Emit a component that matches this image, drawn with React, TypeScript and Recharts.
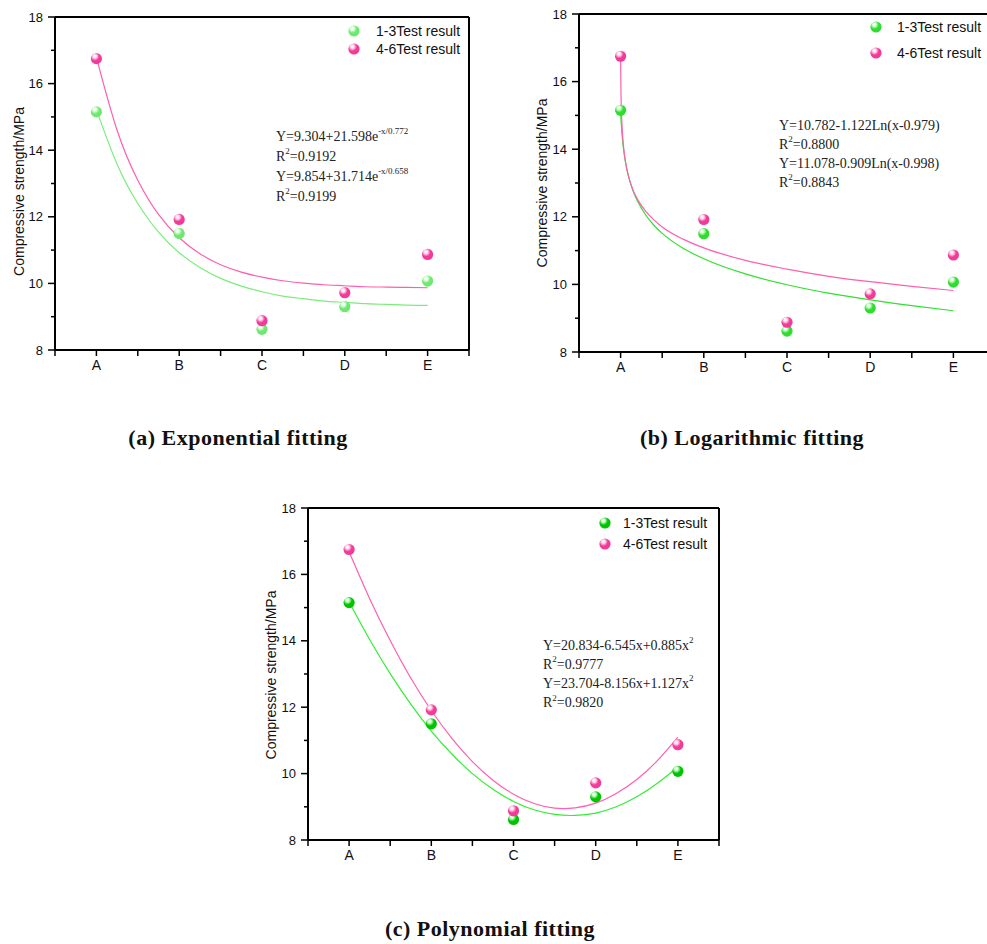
import React from 'react';
import { ComposedChart, Line, Scatter, XAxis, YAxis, Legend, ReferenceLine } from 'recharts';

// ---------- data ----------
const categories = ['A', 'B', 'C', 'D', 'E'];
const categoryX = [1, 2, 3, 4, 5];
const xTicks = [0.5, 1, 1.5, 2, 2.5, 3, 3.5, 4, 4.5, 5, 5.5];
const yTicks = [8, 9, 10, 11, 12, 13, 14, 15, 16, 17, 18];
const seriesNames = ['1-3Test result', '4-6Test result'];
const result13 = [15.15, 11.5, 8.62, 9.3, 10.07];
const result46 = [16.75, 11.92, 8.88, 9.72, 10.87];

const expFitX = [1, 1.25, 1.5, 1.75, 2, 2.25, 2.5, 2.75, 3, 3.25, 3.5, 3.75, 4, 4.25, 4.5, 4.75, 5];
const expFit13 = [15.22, 13.58, 12.4, 11.54, 10.92, 10.48, 10.15, 9.92, 9.75, 9.62, 9.54, 9.47, 9.43, 9.39, 9.37, 9.35, 9.34];
const expFit46 = [16.79, 14.6, 13.1, 12.07, 11.37, 10.89, 10.56, 10.34, 10.19, 10.08, 10.01, 9.96, 9.93, 9.9, 9.89, 9.88, 9.87];

const logFitX = [1, 1.005, 1.01, 1.02, 1.03, 1.05, 1.075, 1.1, 1.15, 1.2, 1.3, 1.4, 1.5, 1.75, 2, 2.5, 3, 3.5, 4, 4.5, 5];
const logFit13 = [15.12, 14.88, 14.68, 14.37, 14.12, 13.75, 13.41, 13.15, 12.76, 12.48, 12.06, 11.75, 11.51, 11.07, 10.76, 10.31, 9.99, 9.74, 9.54, 9.37, 9.22];
const logFit46 = [16.73, 15.59, 15.1, 14.55, 14.21, 13.77, 13.41, 13.15, 12.79, 12.53, 12.17, 11.91, 11.7, 11.34, 11.08, 10.71, 10.45, 10.24, 10.08, 9.94, 9.82];

const polyFitX = [1, 1.25, 1.5, 1.75, 2, 2.25, 2.5, 2.75, 3, 3.25, 3.5, 3.75, 4, 4.25, 4.5, 4.75, 5];
const polyFit13 = [15.17, 14.04, 13.01, 12.09, 11.28, 10.59, 10.0, 9.53, 9.16, 8.91, 8.77, 8.74, 8.81, 9.0, 9.3, 9.71, 10.2];
const polyFit46 = [16.68, 15.27, 14.01, 12.88, 11.9, 11.06, 10.36, 9.8, 9.38, 9.1, 8.96, 8.97, 9.11, 9.4, 9.82, 10.39, 11.1];

const expEquations = ['Y=9.304+21.598e^{-x/0.772}', 'R^{2}=0.9192', 'Y=9.854+31.714e^{-x/0.658}', 'R^{2}=0.9199'];
const logEquations = ['Y=10.782-1.122Ln(x-0.979)', 'R^{2}=0.8800', 'Y=11.078-0.909Ln(x-0.998)', 'R^{2}=0.8843'];
const polyEquations = ['Y=20.834-6.545x+0.885x^{2}', 'R^{2}=0.9777', 'Y=23.704-8.156x+1.127x^{2}', 'R^{2}=0.9820'];

const titles = ['(a) Exponential fitting', '(b) Logarithmic fitting', '(c) Polynomial fitting'];
const yAxisTitle = 'Compressive strength/MPa';

// ---------- helpers ----------
const SANS = "Arial, 'Liberation Sans', sans-serif";
const SERIF = "'Times New Roman', 'Liberation Serif', serif";

const zipRows = (xs: number[], a: number[], b: number[]) =>
  xs.map((x, i) => ({ x, f13: a[i], f46: b[i] }));
const points = (vals: number[]) => categoryX.map((x, i) => ({ x, y: vals[i], name: categories[i] }));

const renderEq = (s: string, k: number) => {
  const parts = s.split(/\^\{([^}]*)\}/);
  return (
    <div key={k}>
      {parts.map((p, i) =>
        i % 2 === 1 ? (
          <sup key={i} style={{ fontSize: 9, lineHeight: 0, position: 'relative', top: -1 }}>{p}</sup>
        ) : (
          <span key={i}>{p}</span>
        )
      )}
    </div>
  );
};

const YTick = (props: any) => {
  const { x, y, payload } = props;
  const axisX = x + 7 + 5;
  const v = payload.value;
  const major = v % 2 === 0;
  return (
    <g>
      <line x1={axisX - (major ? 7 : 4)} x2={axisX} y1={y} y2={y} stroke="#000" strokeWidth={1.5} />
      {major && (
        <text x={x} y={y} dy="0.35em" textAnchor="end" fontSize={13} fontFamily={SANS} fill="#111">
          {v}
        </text>
      )}
    </g>
  );
};

const XTick = (props: any) => {
  const { x, y, payload } = props;
  const axisY = y - 6 - 4;
  const v = payload.value;
  const isCat = Number.isInteger(v);
  return (
    <g>
      <line x1={x} x2={x} y1={axisY} y2={axisY + 6} stroke="#000" strokeWidth={1.5} />
      {isCat && (
        <text x={x} y={y} dy="0.72em" textAnchor="middle" fontSize={14} fontFamily={SANS} fill="#111">
          {categories[categoryX.indexOf(v)]}
        </text>
      )}
    </g>
  );
};

const makeYLabel = (dx: number, dy: number) => (props: any) => {
  const vb = props.viewBox || { x: 0, y: 0, height: 0 };
  return (
    <text
      transform={`translate(${vb.x + dx},${vb.y + vb.height / 2 + dy}) rotate(-90)`}
      textAnchor="middle"
      dominantBaseline="central"
      fontSize={14}
      fontFamily={SANS}
      fill="#111"
    >
      {yAxisTitle}
    </text>
  );
};

const Sphere = (gradId: string) => (props: any) => {
  const { cx, cy } = props;
  if (cx == null || cy == null) return null;
  return <circle cx={cx} cy={cy} r={5.6} fill={`url(#${gradId})`} />;
};

const makeLegend = (cfg: any, ids: string[]) => (props: any) => {
  const items = (props.payload || []).filter((p: any) => p.type !== 'none');
  return (
    <div>
      {items.map((it: any, i: number) => (
        <div key={i} style={{ display: 'flex', alignItems: 'center', height: cfg.row }}>
          <svg width={12} height={12} style={{ display: 'block' }}>
            <circle cx={6} cy={6} r={5.6} fill={`url(#${ids[i]})`} />
          </svg>
          <span style={{ marginLeft: cfg.gap, fontFamily: SANS, fontSize: 14, color: '#111', whiteSpace: 'nowrap' }}>
            {it.value}
          </span>
        </div>
      ))}
    </div>
  );
};

const panels = [
  {
    key: 'a', left: 0, top: 0, width: 490, height: 380,
    margin: { top: 17, right: 21, bottom: 5, left: 10 },
    rows: zipRows(expFitX, expFit13, expFit46), curve: 'natural',
    eq: expEquations, eqBox: { left: 276, top: 127, lh: 20 },
    green: '#6fe86f', greenHi: '#e6ffe6', greenLine: '#7cec7c',
    pink: '#f23b98', pinkHi: '#ffe0f0', pinkLine: '#ff5fae',
    yLabel: { dx: 9, dy: 8 },
    legend: { left: 348, top: 22, row: 18, gap: 16 },
  },
  {
    key: 'b', left: 500, top: 0, width: 500, height: 380,
    margin: { top: 14, right: 5, bottom: 4, left: 34 },
    rows: zipRows(logFitX, logFit13, logFit46), curve: 'monotone',
    eq: logEquations, eqBox: { left: 779, top: 115.5, lh: 19 },
    green: '#2fdc2f', greenHi: '#d8ffd8', greenLine: '#30e030',
    pink: '#f23b98', pinkHi: '#ffe0f0', pinkLine: '#ff5fae',
    yLabel: { dx: 8, dy: 0 },
    legend: { left: 370, top: 14, row: 26, gap: 15 },
  },
  {
    key: 'c', left: 250, top: 490, width: 490, height: 380,
    margin: { top: 18, right: 21, bottom: 5, left: 13 },
    rows: zipRows(polyFitX, polyFit13, polyFit46), curve: 'natural',
    eq: polyEquations, eqBox: { left: 543, top: 635.5, lh: 19.3 },
    green: '#00c400', greenHi: '#ccffcc', greenLine: '#33ee33',
    pink: '#f23b98', pinkHi: '#ffe0f0', pinkLine: '#ff5fae',
    yLabel: { dx: 8, dy: 1 },
    legend: { left: 349, top: 22.5, row: 21, gap: 12 },
  },
];

const titlePos = [
  { cx: 238, cy: 438 },
  { cx: 752, cy: 438 },
  { cx: 490, cy: 929 },
];

const Panel = ({ p }: { p: any }) => {
  const gG = `grad-g-${p.key}`;
  const gP = `grad-p-${p.key}`;
  const xAxisHeight = p.key === 'b' ? 24 : 25;
  return (
    <div style={{ position: 'absolute', left: p.left, top: p.top }}>
      <ComposedChart width={p.width} height={p.height} margin={p.margin} data={p.rows}>
        <defs>
          <radialGradient id={gG} cx="38%" cy="32%" r="70%" fx="35%" fy="28%">
            <stop offset="0%" stopColor="#ffffff" />
            <stop offset="22%" stopColor={p.greenHi} />
            <stop offset="55%" stopColor={p.green} />
            <stop offset="100%" stopColor={p.green} />
          </radialGradient>
          <radialGradient id={gP} cx="38%" cy="32%" r="70%" fx="35%" fy="28%">
            <stop offset="0%" stopColor="#ffffff" />
            <stop offset="22%" stopColor={p.pinkHi} />
            <stop offset="55%" stopColor={p.pink} />
            <stop offset="100%" stopColor={p.pink} />
          </radialGradient>
        </defs>
        <XAxis
          dataKey="x"
          type="number"
          domain={[0.5, 5.5]}
          ticks={xTicks}
          allowDataOverflow
          height={xAxisHeight}
          tickSize={6}
          tickMargin={4}
          tickLine={false}
          tick={<XTick />}
          interval={0}
          axisLine={{ stroke: '#000', strokeWidth: 2 }}
        />
        <YAxis
          type="number"
          domain={[8, 18]}
          ticks={yTicks}
          allowDataOverflow
          width={45}
          tickSize={7}
          tickMargin={5}
          tickLine={false}
          tick={<YTick />}
          interval={0}
          axisLine={{ stroke: '#000', strokeWidth: 2 }}
          label={{ content: makeYLabel(p.yLabel.dx, p.yLabel.dy) }}
        />
        <ReferenceLine y={18} stroke="#000" strokeWidth={2} />
        <ReferenceLine x={5.5} stroke="#000" strokeWidth={2} />
        <Line
          dataKey="f13"
          type={p.curve}
          stroke={p.greenLine}
          strokeWidth={1.2}
          dot={false}
          activeDot={false}
          legendType="none"
          isAnimationActive={false}
        />
        <Line
          dataKey="f46"
          type={p.curve}
          stroke={p.pinkLine}
          strokeWidth={1.2}
          dot={false}
          activeDot={false}
          legendType="none"
          isAnimationActive={false}
        />
        <Scatter
          name={seriesNames[0]}
          data={points(result13)}
          dataKey="y"
          fill={p.green}
          shape={Sphere(gG)}
          isAnimationActive={false}
        />
        <Scatter
          name={seriesNames[1]}
          data={points(result46)}
          dataKey="y"
          fill={p.pink}
          shape={Sphere(gP)}
          isAnimationActive={false}
        />
        <Legend
          layout="vertical"
          align="center"
          verticalAlign="middle"
          wrapperStyle={{ left: p.legend.left, top: p.legend.top, width: 'auto' }}
          content={makeLegend(p.legend, [gG, gP])}
        />
      </ComposedChart>
    </div>
  );
};

export default function App() {
  return (
    <div
      style={{
        position: 'absolute',
        left: 0,
        top: 0,
        width: 987,
        height: 944,
        overflow: 'hidden',
        background: '#fff',
      }}
    >
      {panels.map((p) => (
        <Panel key={p.key} p={p} />
      ))}
      {panels.map((p) => (
        <div
          key={'eq' + p.key}
          style={{
            position: 'absolute',
            left: p.eqBox.left,
            top: p.eqBox.top,
            fontFamily: SERIF,
            fontSize: 14,
            lineHeight: `${p.eqBox.lh}px`,
            color: '#222',
            whiteSpace: 'nowrap',
          }}
        >
          {p.eq.map((s: string, i: number) => renderEq(s, i))}
        </div>
      ))}
      {titles.map((t, i) => (
        <div
          key={t}
          style={{
            position: 'absolute',
            left: titlePos[i].cx - 200,
            top: titlePos[i].cy - 14,
            width: 400,
            height: 28,
            lineHeight: '28px',
            textAlign: 'center',
            fontFamily: SERIF,
            fontWeight: 'bold',
            fontSize: 22,
            letterSpacing: 0.5,
            color: '#111',
          }}
        >
          {t}
        </div>
      ))}
    </div>
  );
}
